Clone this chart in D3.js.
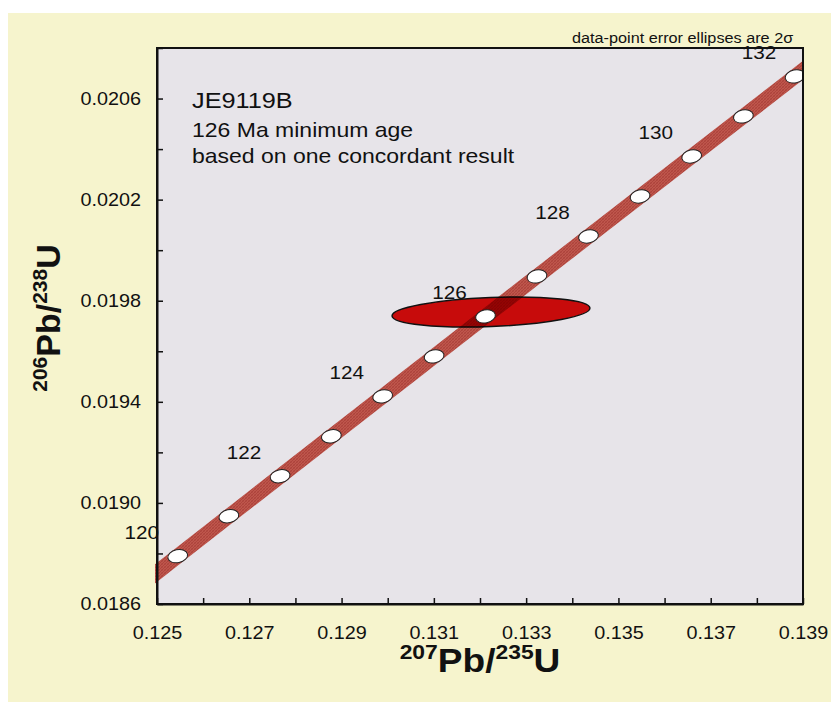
<!DOCTYPE html>
<html><head><meta charset="utf-8">
<script src="https://cdn.jsdelivr.net/npm/d3@7"></script>
<style>
html,body{margin:0;padding:0;background:#fff;}
svg{display:block;}
text{font-family:"Liberation Sans",Arial,Helvetica,sans-serif;fill:#111;}
</style>
</head><body>
<svg id="chart" width="831" height="702"></svg>
<script>
// Concordia (age in Ma, 207Pb/235U, 206Pb/238U)
const ages     = [119, 120, 121, 122, 123, 124, 125, 126, 127, 128, 129, 130, 131, 132, 133];
const r207_235 = [0.124341, 0.125449, 0.126558, 0.127668, 0.128779, 0.129891, 0.131005, 0.132119, 0.133235, 0.134351, 0.135469, 0.136588, 0.137708, 0.138829, 0.139951];
const r206_238 = [0.0186313, 0.0187894, 0.0189474, 0.0191055, 0.0192636, 0.0194217, 0.0195798, 0.0197380, 0.0198962, 0.0200544, 0.0202127, 0.0203710, 0.0205293, 0.0206876, 0.0208459];
const markerAges = [120, 121, 122, 123, 124, 125, 126, 127, 128, 129, 130, 131, 132];
const labelAges  = [120, 122, 124, 126, 128, 130, 132];

// Single analysis (2 sigma error ellipse)
const sampleX    = [0.132238];
const sampleY    = [0.0197554];
const sampleErrX = [0.002146];
const sampleErrY = [0.0000574];

// Axes
const xTicks = [0.125, 0.126, 0.127, 0.128, 0.129, 0.130, 0.131, 0.132, 0.133, 0.134, 0.135, 0.136, 0.137, 0.138, 0.139];
const xTickLabels = ["0.125", "0.127", "0.129", "0.131", "0.133", "0.135", "0.137", "0.139"];
const yTicks = [0.0186, 0.0188, 0.0190, 0.0192, 0.0194, 0.0196, 0.0198, 0.0200, 0.0202, 0.0204, 0.0206, 0.0208];
const yTickLabels = ["0.0186", "0.0190", "0.0194", "0.0198", "0.0202", "0.0206"];
const xDomain = [0.125, 0.139];
const yDomain = [0.0186, 0.0208];

const annotation = ["JE9119B", "126 Ma minimum age", "based on one concordant result"];
const note = "data-point error ellipses are 2\u03C3";

const svg = d3.select("#chart");
const L = 157, R = 803, T = 48, B = 604;
const x = d3.scaleLinear().domain(xDomain).range([L, R]);
const y = d3.scaleLinear().domain(yDomain).range([B, T]);

// page background
svg.append("rect").attr("x", 8).attr("y", 13).attr("width", 831 - 8).attr("height", 702 - 13).attr("fill", "#f6f4cd");

const defs = svg.append("defs");
defs.append("clipPath").attr("id", "plotclip").append("rect")
  .attr("x", L - 2).attr("y", T).attr("width", R - L + 2).attr("height", B - T);
const pat = defs.append("pattern").attr("id", "hatch").attr("patternUnits", "userSpaceOnUse")
  .attr("width", 3).attr("height", 3);
pat.append("rect").attr("width", 3).attr("height", 3).attr("fill", "rgb(190,86,76)");
pat.append("path").attr("d", "M0,3 L3,0").attr("stroke", "rgb(168,62,56)").attr("stroke-width", 0.8);
pat.append("path").attr("d", "M0,0 L3,3").attr("stroke", "rgb(176,70,62)").attr("stroke-width", 0.6);

// plot background
svg.append("rect").attr("x", L).attr("y", T).attr("width", R - L).attr("height", B - T).attr("fill", "#e7e4e9");

const g = svg.append("g").attr("clip-path", "url(#plotclip)");

// sample ellipse
const ang = -2.3;
sampleX.forEach((sx, i) => {
  const cx = x(sx), cy = y(sampleY[i]);
  const rx = x(sx + sampleErrX[i]) - cx;
  const ry = cy - y(sampleY[i] + sampleErrY[i]);
  g.append("ellipse").attr("cx", cx).attr("cy", cy).attr("rx", rx).attr("ry", ry)
    .attr("transform", `rotate(${ang},${cx},${cy})`)
    .attr("fill", "#c70b0b").attr("stroke", "#111").attr("stroke-width", 1.5);
});

// concordia band
const pts = ages.map((a, i) => [x(r207_235[i]), y(r206_238[i])]);
g.append("path").attr("d", d3.line().curve(d3.curveMonotoneX)(pts))
  .attr("fill", "none").attr("stroke", "url(#hatch)").attr("stroke-width", 15)
  .style("mix-blend-mode", "multiply");

// age markers
markerAges.forEach(a => {
  const i = ages.indexOf(a);
  const cx = x(r207_235[i]), cy = y(r206_238[i]);
  g.append("ellipse").attr("cx", cx).attr("cy", cy).attr("rx", 10).attr("ry", 6.5)
    .attr("transform", `rotate(-12,${cx},${cy})`)
    .attr("fill", "#fff").attr("stroke", "#222").attr("stroke-width", 1);
});

// age labels
labelAges.forEach(a => {
  const i = ages.indexOf(a);
  const cx = x(r207_235[i]) - 36, cy = y(r206_238[i]) - 17.5;
  svg.append("text").attr("transform", `translate(${cx},${cy}) scale(1.15,1)`)
    .attr("text-anchor", "middle").attr("font-size", 18).text(a);
});

// frame
svg.append("rect").attr("x", L).attr("y", T).attr("width", R - L).attr("height", B - T)
  .attr("fill", "none").attr("stroke", "#111").attr("stroke-width", 2);

// axes
const xAxis = d3.axisBottom(x).tickValues(xTicks).tickSize(-6).tickSizeOuter(0).tickPadding(22)
  .tickFormat(d => { const s = d3.format(".3f")(d); return xTickLabels.includes(s) ? s : ""; });
const gx = svg.append("g").attr("transform", `translate(0,${B})`).call(xAxis);
const yAxis = d3.axisLeft(y).tickValues(yTicks).tickSize(-6).tickSizeOuter(0).tickPadding(14.5)
  .tickFormat(d => { const s = d3.format(".4f")(d); return yTickLabels.includes(s) ? s : ""; });
const gy = svg.append("g").attr("transform", `translate(${L},0)`).call(yAxis);
[gx, gy].forEach(ax => {
  ax.select(".domain").attr("stroke", "#111").attr("stroke-width", 2);
  ax.selectAll(".tick line").attr("stroke", "#111").attr("stroke-width", 1.5);
  ax.selectAll(".tick text").attr("font-size", 18).attr("fill", "#111")
    .attr("font-family", "'Liberation Sans',Arial,sans-serif").attr("transform", "scale(1.1,1)");
});

// annotation text
const annY = [108, 137, 163], annF = [22, 20, 20];
annotation.forEach((t, i) => {
  svg.append("text").attr("transform", `translate(192,${annY[i]}) scale(1.15,1)`)
    .attr("font-size", annF[i]).text(t);
});
svg.append("text").attr("transform", "translate(572,43) scale(1.16,1)").attr("font-size", 14).text(note);

// axis titles
function title(sel, a, b) {
  sel.attr("font-weight", "bold").attr("font-size", 34).attr("text-anchor", "middle");
  sel.append("tspan").attr("font-size", 21).attr("dy", -13).text(a);
  sel.append("tspan").attr("dy", 13).text("Pb/");
  sel.append("tspan").attr("font-size", 21).attr("dy", -13).text(b);
  sel.append("tspan").attr("dy", 13).text("U");
}
title(svg.append("text").attr("transform", "translate(480,672) scale(1.09,1)"), "207", "235");
title(svg.append("text").attr("transform", "translate(60,318) rotate(-90)"), "206", "238");
</script>
</body></html>
